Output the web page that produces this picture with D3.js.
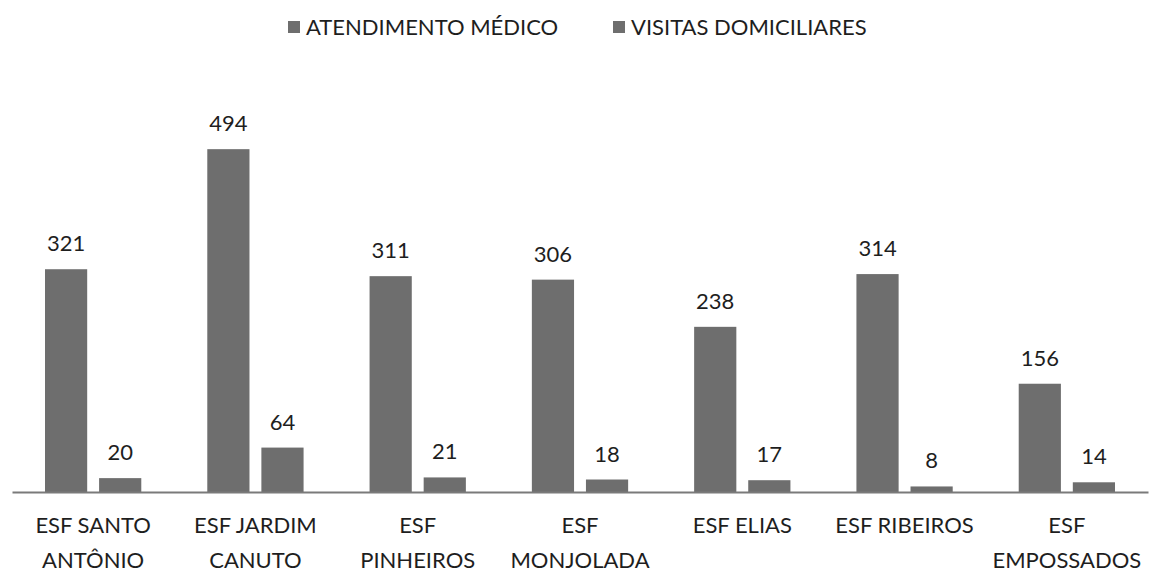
<!DOCTYPE html>
<html>
<head>
<meta charset="utf-8">
<script src="https://cdn.jsdelivr.net/npm/d3@7"></script>
<style>
  body { margin: 0; background: #fff; }
  text { font-family: Lato, "Open Sans", sans-serif; fill: #1e1e1e; }
</style>
</head>
<body>
<script>
// data
var categories = ["ESF SANTO ANTÔNIO", "ESF JARDIM CANUTO", "ESF PINHEIROS", "ESF MONJOLADA",
                  "ESF ELIAS", "ESF RIBEIROS", "ESF EMPOSSADOS"];
var tickLines = [["ESF SANTO", "ANTÔNIO"], ["ESF JARDIM", "CANUTO"], ["ESF", "PINHEIROS"],
                 ["ESF", "MONJOLADA"], ["ESF ELIAS"], ["ESF RIBEIROS"], ["ESF", "EMPOSSADOS"]];
var series = ["ATENDIMENTO MÉDICO", "VISITAS DOMICILIARES"];
var atendimento = [321, 494, 311, 306, 238, 314, 156];
var visitas = [20, 64, 21, 18, 17, 8, 14];

var width = 1156, height = 576;
var barColor = "#6e6e6e";

var rows = categories.map(function(c, i) {
  return {cat: c, vals: [{s: series[0], v: atendimento[i]}, {s: series[1], v: visitas[i]}]};
});

var svg = d3.select("body").append("svg")
  .attr("width", width)
  .attr("height", height);

var x0 = d3.scaleBand().domain(categories).range([12, 1148]).padding(0);
var x1 = d3.scaleBand().domain(series).range([0, x0.bandwidth()])
  .paddingInner(0.22).paddingOuter(0.61);
var y = d3.scaleLinear().domain([0, 500]).range([492, 145]);

// bars
var groups = svg.append("g").selectAll("g")
  .data(rows).enter().append("g")
  .attr("transform", function(d) { return "translate(" + x0(d.cat) + ",0)"; });

groups.selectAll("rect")
  .data(function(d) { return d.vals; })
  .enter().append("rect")
  .attr("x", function(d) { return x1(d.s); })
  .attr("y", function(d) { return y(d.v); })
  .attr("width", x1.bandwidth())
  .attr("height", function(d) { return y(0) - y(d.v); })
  .style("fill", barColor);

// value labels
groups.selectAll("text")
  .data(function(d) { return d.vals; })
  .enter().append("text")
  .attr("x", function(d) { return x1(d.s) + x1.bandwidth() / 2; })
  .attr("y", function(d) { return y(d.v) - 18; })
  .attr("text-anchor", "middle")
  .attr("font-size", "22px")
  .text(function(d) { return d.v; });

// x axis
var xAxis = svg.append("g")
  .attr("transform", "translate(0," + y(0) + ")")
  .call(d3.axisBottom(x0).tickSize(0).tickFormat(""));
xAxis.select(".domain").attr("stroke", "#7a7a7a").attr("stroke-width", 2);

var tickG = svg.append("g").selectAll("text")
  .data(categories).enter().append("text")
  .attr("text-anchor", "middle")
  .attr("font-size", "22px")
  .attr("x", function(d) { return x0(d) + x0.bandwidth() / 2; })
  .attr("y", 533);
tickG.each(function(d, i) {
  var t = d3.select(this);
  tickLines[i].forEach(function(line, j) {
    t.append("tspan")
      .attr("x", x0(d) + x0.bandwidth() / 2)
      .attr("dy", j === 0 ? 0 : 35)
      .text(line);
  });
});

// legend
var legendX = [288, 613];
var legend = svg.append("g").selectAll("g")
  .data(series).enter().append("g")
  .attr("transform", function(d, i) { return "translate(" + legendX[i] + ",21)"; });
legend.append("rect")
  .attr("width", 12).attr("height", 12)
  .style("fill", barColor);
legend.append("text")
  .attr("x", 18).attr("y", 14)
  .attr("font-size", "22px")
  .text(function(d) { return d; });
</script>
</body>
</html>
